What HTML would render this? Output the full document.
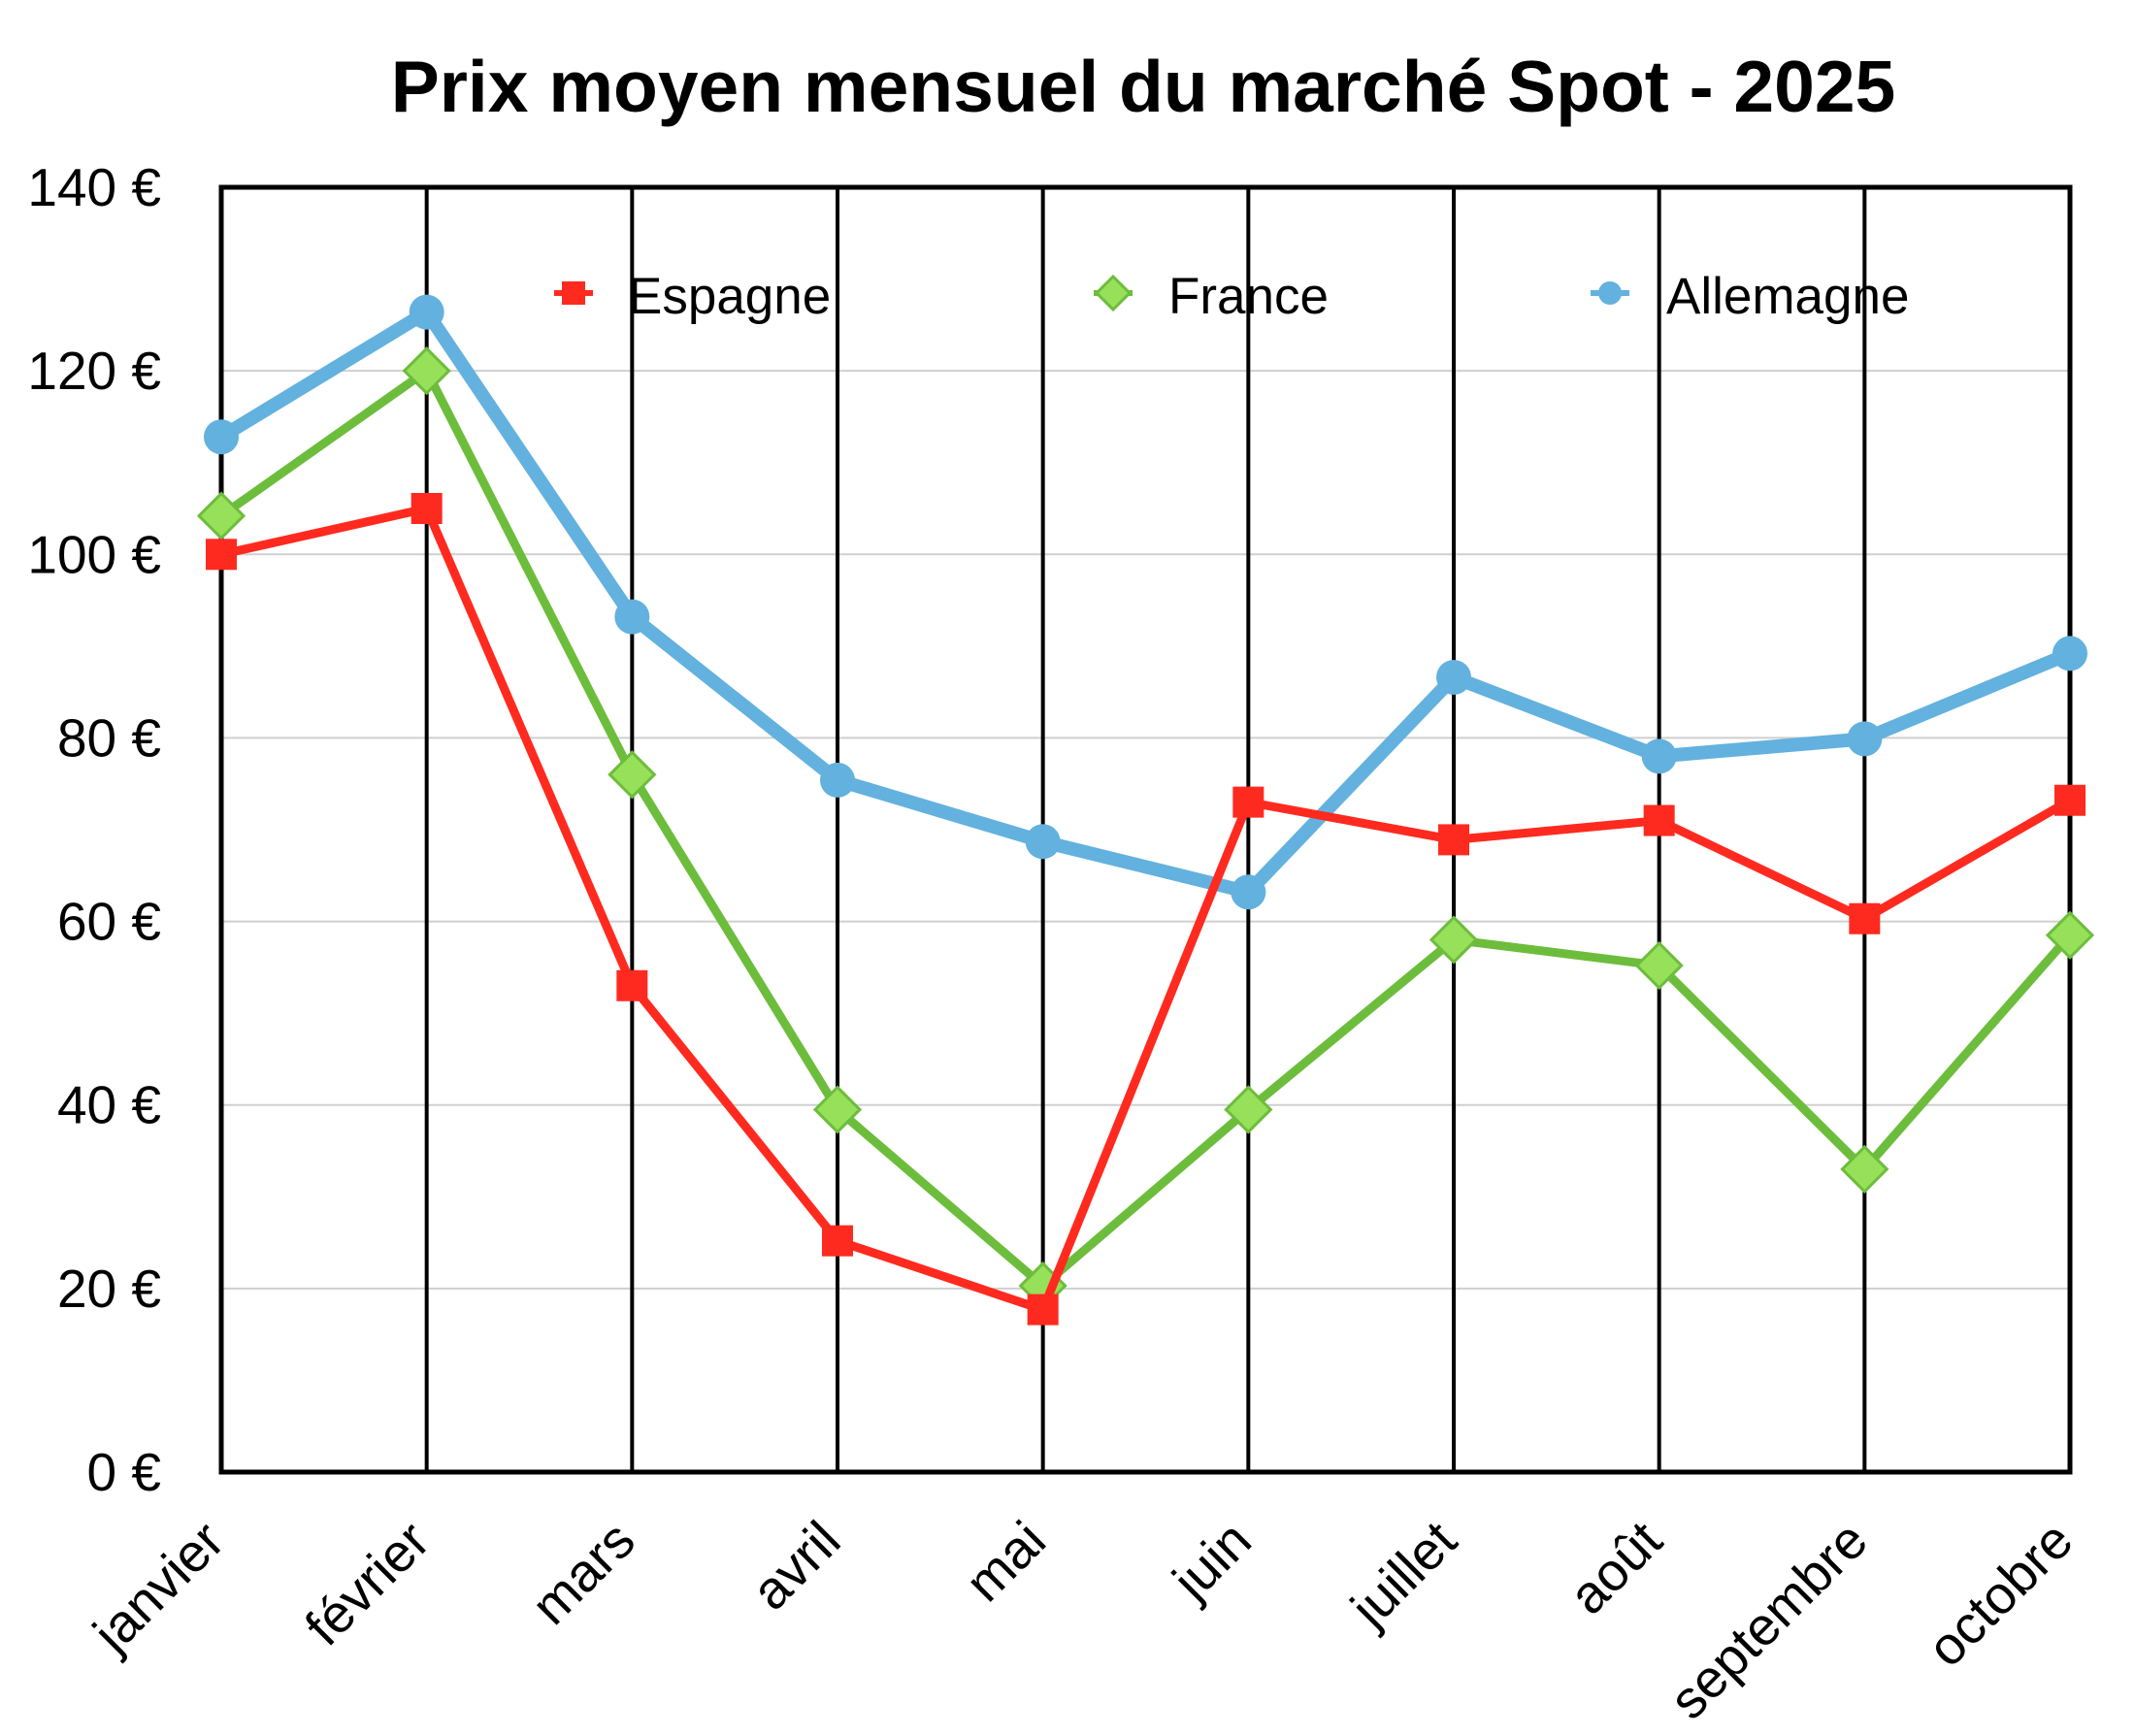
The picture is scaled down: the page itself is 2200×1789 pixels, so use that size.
<!DOCTYPE html>
<html><head><meta charset="utf-8"><style>
html,body{margin:0;padding:0;background:#fff;}
svg{display:block;font-family:"Liberation Sans",Arial,sans-serif;}
</style></head><body>
<svg id="chart" width="2200" height="1789" viewBox="0 0 2200 1789">
<text x="1178" y="115" text-anchor="middle" font-size="75" font-weight="bold">Prix moyen mensuel du marché Spot - 2025</text>
<g id="grid"></g>
<g id="yticks"></g>
<g id="xticks"></g>
<g id="series"></g>
<g id="legend"></g>
</svg>
<script>
const categories = ["janvier","février","mars","avril","mai","juin","juillet","août","septembre","octobre"];
const espagne = [100,105,53,25.2,17.7,73,68.9,71,60.3,73.2];
const france = [104.2,120,76,39.5,20.3,39.5,58,55.2,33,58.5];
const allemagne = [112.8,126.4,93.2,75.4,68.7,63.2,86.6,78,79.9,89.2];
const yTicks = [0,20,40,60,80,100,120,140];
const yTickLabels = ["0 €","20 €","40 €","60 €","80 €","100 €","120 €","140 €"];

const NS="http://www.w3.org/2000/svg";
const L=228,R=2133,T=193,B=1517,YMAX=140;
function xs(i){return L+i*(R-L)/(categories.length-1);}
function ys(v){return B-(v/YMAX)*(B-T);}
function mk(tag,attrs,parent){const e=document.createElementNS(NS,tag);for(const k in attrs)e.setAttribute(k,attrs[k]);parent.appendChild(e);return e;}

const grid=document.getElementById('grid');
yTicks.forEach((t,i)=>{
  if(t>0&&t<YMAX){
    const g=mk('line',{x1:L,x2:R,y1:ys(t),y2:ys(t),stroke:'#cfcfcf','stroke-width':2},grid);
    
    
  }
  const lb=mk('text',{x:166,y:ys(t)+19,'text-anchor':'end','font-size':55},document.getElementById('yticks'));
  lb.textContent=yTickLabels[i];
  
  
});
categories.forEach((c,i)=>{
  const v=mk('line',{x1:xs(i),x2:xs(i),y1:T,y2:B,stroke:'#000','stroke-width':4},grid);
  
  
  const lb=mk('text',{transform:`translate(${xs(i)+6},${B+74}) rotate(-45)`,'text-anchor':'end','font-size':55},document.getElementById('xticks'));
  lb.textContent=c;
  
  
});
const fr=mk('rect',{x:L,y:T,width:R-L,height:B-T,fill:'none',stroke:'#000','stroke-width':5},grid);



const S=document.getElementById('series');
function marker(type,x,y,color,fill,parent,sz){
  let m;
  if(type==='square'){m=mk('rect',{x:x-sz,y:y-sz,width:2*sz,height:2*sz,fill:color},parent);}
  else if(type==='diamond'){m=mk('polygon',{points:`${x},${y-sz} ${x+sz},${y} ${x},${y+sz} ${x-sz},${y}`,fill:fill,stroke:color,'stroke-width':3},parent);}
  else {m=mk('circle',{cx:x,cy:y,r:sz,fill:color},parent);}
  return m;
}
const seriesDefs=[
  {name:'allemagne',data:allemagne,color:'#63b1de',fill:'#63b1de',w:14,type:'circle',sz:18},
  {name:'france',data:france,color:'#6dbd3c',fill:'#97e05a',w:9,type:'diamond',sz:23},
  {name:'espagne',data:espagne,color:'#ff2a1f',fill:'#ff2a1f',w:9,type:'square',sz:16}
];
seriesDefs.forEach(s=>{
  const g=mk('g',{},S);
  
  
  const pts=s.data.map((v,i)=>xs(i)+','+ys(v)).join(' ');
  const pl=mk('polyline',{points:pts,fill:'none',stroke:s.color,'stroke-width':s.w,'stroke-linejoin':'round'},g);
  
  
  s.data.forEach((v,i)=>{
    const m=marker(s.type,xs(i),ys(v),s.color,s.fill,g,s.sz);
    
    
  });
});

const Lg=document.getElementById('legend');
const legendItems=[
  {label:'Espagne',mx:591,tx:647,def:seriesDefs[2]},
  {label:'France',mx:1147,tx:1204,def:seriesDefs[1]},
  {label:'Allemagne',mx:1659,tx:1717,def:seriesDefs[0]}
];
legendItems.forEach(it=>{
  const g=mk('g',{},Lg);
  
  
  mk('line',{x1:it.mx-20,x2:it.mx+20,y1:302,y2:302,stroke:it.def.color,'stroke-width':6},g);
  marker(it.def.type,it.mx,302,it.def.color,it.def.fill,g,it.def.type==='diamond'?17:12);
  const t=mk('text',{x:it.tx,y:323,'font-size':53},g);
  t.textContent=it.label;
});
</script>
</body></html>
